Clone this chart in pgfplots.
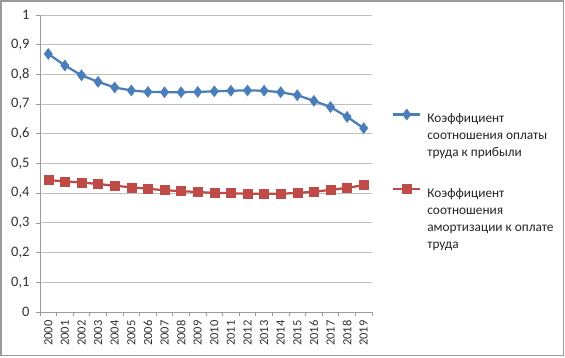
\documentclass[border=0pt]{standalone}
\usepackage{fontspec}
\setmainfont{Carlito}
\usepackage{pgfplots}
\pgfplotsset{compat=1.18}
\definecolor{sblue}{HTML}{4A7EBB}
\definecolor{sred}{HTML}{BE4B48}
\definecolor{gridc}{HTML}{BFBFBF}
\definecolor{axc}{HTML}{9A9A9A}
\newcommand{\lt}[1]{\hspace{4pt}\parbox[t]{140pt}{\raggedright\fontsize{13.3}{17}\selectfont #1}}
\begin{document}
\begin{tikzpicture}[x=1pt,y=1pt]
\fill[white] (0,0) rectangle (565,357);
\begin{axis}[
  at={(40pt,45pt)}, anchor=south west,
  scale only axis, width=332pt, height=297pt,
  xmin=-0.5, xmax=19.5, ymin=0, ymax=1,
  axis x line*=bottom, axis y line*=left,
  axis line style={axc, line width=0.8pt},
  xtick={0,...,19},
  xticklabels={2000,2001,2002,2003,2004,2005,2006,2007,2008,2009,2010,2011,2012,2013,2014,2015,2016,2017,2018,2019},
  x tick label style={rotate=90, anchor=east, yshift=0pt, xshift=-1pt, font=\fontsize{12.5}{13}\selectfont, text=black!80},
  minor xtick={-0.5,0.5,...,19.5},
  major x tick style={draw=none},
  minor tick length=4pt,
  ytick={0,0.1,...,1.01},
  yticklabels={0,{0,1},{0,2},{0,3},{0,4},{0,5},{0,6},{0,7},{0,8},{0,9},1},
  y tick label style={font=\fontsize{14.5}{15}\selectfont, text=black!80, xshift=-3pt},
  major tick length=4pt,
  tick align=outside,
  tick style={axc, line width=0.8pt},
  ymajorgrids, grid style={gridc, line width=0.9pt},
  /pgf/number format/assume math mode=true,
  legend style={at={(1.060,0.684)}, anchor=north west, draw=none, fill=none,
    row sep=58pt, text=black!85,
    cells={anchor=base west}, inner sep=0pt},
  legend image code/.code={\draw[#1, mark repeat=2, mark phase=2] plot coordinates {(0pt,4.5pt) (13.5pt,4.5pt) (27pt,4.5pt)};},
  legend cell align=left,
]
\addplot[sblue, line width=2.25pt, mark=diamond*, mark size=5.5pt, mark options={solid, line width=0.5pt}] coordinates {
(0,0.869) (1,0.830) (2,0.797) (3,0.775) (4,0.756) (5,0.746) (6,0.741) (7,0.740) (8,0.740) (9,0.741)
(10,0.743) (11,0.745) (12,0.746) (13,0.745) (14,0.740) (15,0.730) (16,0.711) (17,0.690) (18,0.657) (19,0.619)};
\addlegendentry{\lt{Коэффициент\\соотношения оплаты\\труда к прибыли}}
\addplot[sred, line width=2.25pt, mark=square*, mark size=4.5pt, mark options={solid, line width=0.5pt}] coordinates {
(0,0.444) (1,0.440) (2,0.436) (3,0.431) (4,0.425) (5,0.420) (6,0.415) (7,0.410) (8,0.407) (9,0.404)
(10,0.401) (11,0.400) (12,0.398) (13,0.398) (14,0.398) (15,0.401) (16,0.405) (17,0.411) (18,0.418) (19,0.427)};
\addlegendentry{\lt{Коэффициент\\соотношения\\амортизации к оплате\\труда}}
\end{axis}
\draw[gray!80, line width=1.5pt] (1,1.5) rectangle (563.5,356);
\pgfresetboundingbox
\useasboundingbox (0,0) rectangle (565,357);
\end{tikzpicture}
\end{document}
